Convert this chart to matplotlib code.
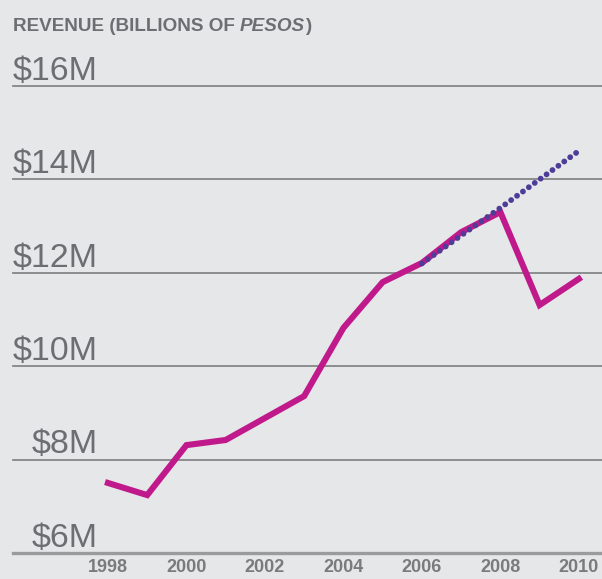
import matplotlib
matplotlib.use('Agg')
import matplotlib.pyplot as plt

years = [1998, 1999, 2000, 2001, 2002, 2003, 2004, 2005, 2006, 2007, 2008, 2009, 2010]
revenue = [7.50, 7.24, 8.31, 8.42, 8.89, 9.36, 10.82, 11.80, 12.21, 12.87, 13.30, 11.31, 11.87]
proj_years = [2006, 2007, 2008, 2009, 2010]
projection = [12.20, 12.80, 13.39, 14.00, 14.61]
yticks = [6, 8, 10, 12, 14, 16]
xticks = [1998, 2000, 2002, 2004, 2006, 2008, 2010]

BG = '#e6e7e8'
GRAY = '#6d6e71'
FONT = ['Liberation Sans', 'DejaVu Sans']


def main():
    fig = plt.figure(figsize=(6.02, 5.79), dpi=100, facecolor=BG)
    ax = fig.add_axes([13 / 602, 26 / 579, 589 / 602, 467 / 579])
    ax.set_facecolor(BG)
    ax.set_xlim(1995.58, 2010.59)
    ax.set_ylim(6, 16)
    for s in ax.spines.values():
        s.set_visible(False)

    label_x = (98 - 13) / 589  # right edge of the value labels, axes fraction
    for v in yticks:
        if v == yticks[0]:
            ax.axhline(v, color='#9a9b9d', lw=2.4, clip_on=False, zorder=1)
        else:
            ax.axhline(v, color='#858688', lw=1.3, clip_on=False, zorder=1)
        ax.annotate('$%dM' % v, (label_x, v), xycoords=('axes fraction', 'data'),
                    xytext=(0, 4.5), textcoords='offset points', ha='right', va='baseline',
                    fontsize=24.5, color=GRAY, family=FONT)

    ax.plot(years, revenue, color='#c0198b', lw=4.4, solid_joinstyle='miter', zorder=2)
    ax.plot(proj_years, projection, color='#4e3d98', lw=4.2,
            linestyle=(0, (0.001, 1.25)), dash_capstyle='round', zorder=3)

    ax.set_yticks([])
    ax.set_xticks(xticks)
    ax.set_xticklabels([str(x) for x in xticks], fontsize=13, fontweight='bold',
                       color='#7a7b7d', family=FONT)
    ax.tick_params(axis='x', length=0, pad=4)

    # title with italic PESOS
    r = fig.canvas.get_renderer()
    y0 = 1 - 31 / 579
    t1 = fig.text(13 / 602, y0, 'REVENUE (BILLIONS OF ', fontsize=13.6,
                  fontweight='bold', color=GRAY, family=FONT, ha='left', va='baseline')
    bb = t1.get_window_extent(r)
    t2 = fig.text(bb.x1 / fig.bbox.width, y0, 'PESOS', fontsize=13.6,
                  fontweight='bold', fontstyle='italic', color=GRAY, family=FONT,
                  ha='left', va='baseline')
    bb2 = t2.get_window_extent(r)
    fig.text(bb2.x1 / fig.bbox.width, y0, ')', fontsize=13.6,
             fontweight='bold', color=GRAY, family=FONT, ha='left', va='baseline')

    fig.savefig('out.png', dpi=100, facecolor=BG)


if __name__ == '__main__':
    main()
